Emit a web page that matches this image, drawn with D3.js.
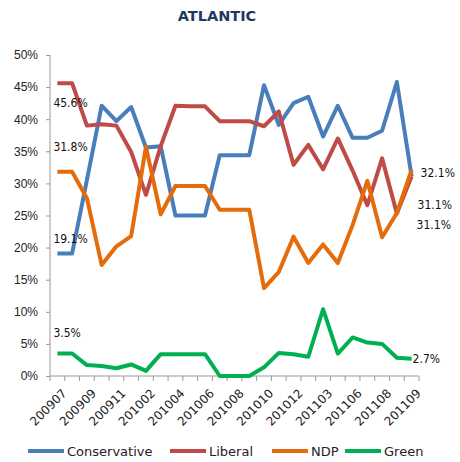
<!DOCTYPE html>
<html>
<head>
<meta charset="utf-8">
<script src="https://cdn.jsdelivr.net/npm/d3@7"></script>
<style>
  body { margin: 0; background: #fff; }
  svg { font-family: "DejaVu Sans", sans-serif; }
  .axis path, .axis line { stroke: #999; }
  .axis text { fill: #222; font-size: 12px; }
</style>
</head>
<body>
<svg id="chart" width="460" height="462"></svg>
<script>
const periods = ['200907','200908','200909','200910','200911','200912','201002','201003','201004','201005',
  '201006','201007','201008','201009','201010','201011','201012','201101','201103','201104',
  '201106','201107','201108','201108b','201109'];
const conservative = [19.1,19.1,30.5,42.1,39.7,41.9,35.6,35.8,25.0,25.0,25.0,34.4,34.4,34.4,45.3,39.1,42.5,43.5,37.3,42.1,37.1,37.1,38.2,45.8,31.1];
const liberal      = [45.6,45.6,39.0,39.2,39.0,34.9,28.2,35.8,42.1,42.0,42.0,39.7,39.7,39.7,38.9,41.2,32.9,36.0,32.2,37.0,32.0,26.6,33.9,25.3,31.1];
const ndp          = [31.8,31.8,27.7,17.3,20.2,21.8,35.7,25.2,29.6,29.6,29.6,25.9,25.9,25.9,13.7,16.2,21.7,17.6,20.5,17.6,23.5,30.4,21.6,25.4,32.1];
const green        = [3.5,3.5,1.7,1.55,1.2,1.8,0.8,3.4,3.4,3.4,3.4,0,0,0,1.35,3.6,3.4,3.0,10.4,3.5,6.0,5.2,5.0,2.85,2.7];
const seriesNames  = ['Conservative','Liberal','NDP','Green'];
const yTicks = [0,5,10,15,20,25,30,35,40,45,50];

const colors = ['#4a7ebb','#be4b48','#e46c0a','#00b050'];
// manual label nudges (px) for first / last value labels, as in the original
const firstDy = [-15, 20, -25, -21];
const lastDx  = [6, 5, 9, 1];
const lastDy  = [28, 48, 3, 0];

const svg = d3.select('#chart');
const x = d3.scaleBand().domain(periods).range([50, 419]).paddingInner(0).paddingOuter(0);
const y = d3.scaleLinear().domain([0, 50]).range([376, 55]);
const cx = p => x(p) + x.bandwidth() / 2;

svg.append('text').attr('x', 217).attr('y', 21).attr('text-anchor', 'middle')
  .attr('font-size', 14.5).attr('font-weight', 'bold').attr('fill', '#1f3a60').text('ATLANTIC');

// y axis
const gy = svg.append('g').attr('class', 'axis').attr('transform', 'translate(50,0)')
  .call(d3.axisLeft(y).tickValues(yTicks).tickFormat(d => d + '%').tickSize(4).tickPadding(8));
gy.select('.domain').attr('d', `M0,${y(50)}V${y(0)}`);

// x axis: ticks on band edges, labels every other category
const gx = svg.append('g').attr('class', 'axis').attr('transform', 'translate(0,376)');
gx.append('line').attr('x1', 50).attr('x2', 419).attr('stroke', '#999');
gx.selectAll('line.tk').data(periods.concat(['end'])).join('line').attr('class', 'tk')
  .attr('x1', (d, i) => 50 + i * x.bandwidth()).attr('x2', (d, i) => 50 + i * x.bandwidth())
  .attr('y1', 0).attr('y2', 5).attr('stroke', '#999');
gx.selectAll('text').data(periods.filter((d, i) => i % 2 === 0)).join('text')
  .attr('transform', d => `translate(${cx(d) + 4},${12}) rotate(-45)`)
  .attr('text-anchor', 'end').attr('dy', '0.71em').text(d => d);

// lines
const all = [conservative, liberal, ndp, green];
const line = d3.line().x((d, i) => cx(periods[i])).y(d => y(d));
svg.append('g').selectAll('path').data(all).join('path')
  .attr('d', line).attr('fill', 'none')
  .attr('stroke', (d, i) => colors[i]).attr('stroke-width', 4).attr('stroke-linejoin', 'round');

// data labels
const gl = svg.append('g').attr('font-size', 12).attr('fill', '#111')
  .style('font-family', '"DejaVu Sans Condensed", "DejaVu Sans", sans-serif');
all.forEach((s, k) => {
  gl.append('text').attr('x', cx(periods[0]) - 4).attr('y', y(s[0]) + firstDy[k])
    .attr('dy', '0.35em').text(s[0].toFixed(1) + '%');
  const last = s.length - 1;
  gl.append('text').attr('x', cx(periods[last]) + lastDx[k]).attr('y', y(s[last]) + lastDy[k])
    .attr('dy', '0.35em').text(s[last].toFixed(1) + '%');
});

// legend
const legX = [28, 170, 272, 345];
const lg = svg.append('g').attr('transform', 'translate(0,451)');
seriesNames.forEach((n, i) => {
  lg.append('line').attr('x1', legX[i]).attr('x2', legX[i] + 36).attr('stroke', colors[i]).attr('stroke-width', 4);
  lg.append('text').attr('x', legX[i] + 39).attr('dy', '0.35em').attr('font-size', 13).attr('fill', '#222').text(n);
});
</script>
</body>
</html>
